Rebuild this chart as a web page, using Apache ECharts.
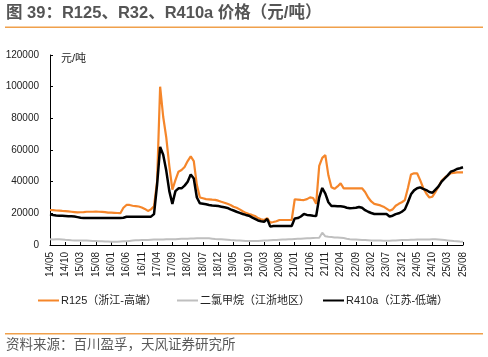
<!DOCTYPE html>
<html>
<head>
<meta charset="utf-8">
<script src="https://cdn.jsdelivr.net/npm/echarts@6/dist/echarts.min.js"></script>
<style>
html,body{margin:0;padding:0;background:#fff;}
#c{width:488px;height:357px;}
</style>
</head>
<body>
<div id="c"></div>
<script>
// Monthly categories 14/05 ... 25/08
const categories = [];
for (let y = 2014, m = 5; y < 2025 || (y === 2025 && m <= 8); ) {
  categories.push(String(y % 100).padStart(2, '0') + '/' + String(m).padStart(2, '0'));
  m++; if (m > 12) { m = 1; y++; }
}

const yTicks = [0, 20000, 40000, 60000, 80000, 100000, 120000];

// R125 (浙江-高端), 元/吨
const r125 = [
  22100,22000,21800,21700,21500,21400,21200,21000,20800,20600,
  20700,20800,21000,21000,21000,21100,21000,20900,20800,20500,
  20400,20300,20200,20100,23500,25300,25300,24800,24600,24300,
  23700,22800,21500,22500,24500,40000,100000,81000,68000,50000,
  35000,41000,46300,47400,49300,53000,56000,53000,38000,30000,
  29500,29000,28800,28600,28500,28000,27300,26700,26000,25300,
  24200,23500,22500,21300,20300,19500,19000,18300,17000,16300,
  15800,17000,14100,14500,15000,15800,15800,15800,15800,15800,
  28900,28700,28500,28400,29000,30100,29700,26000,50000,55000,
  56800,44000,36500,35500,37000,39000,35800,35800,35800,35800,
  35800,35800,35800,33500,30000,27500,26000,25500,25000,24200,
  23000,21700,22500,24800,26000,27000,28400,36000,44500,45300,
  45300,41000,36000,32500,30000,30500,33500,37000,40500,42500,
  44000,45300,45600,45900,45900,45900
];

// 二氯甲烷 (江浙地区), 元/吨
const dcm = [
  3600,3500,3600,3700,3500,3300,3200,3000,2900,2900,
  2800,2800,2800,2700,2600,2500,2400,2300,2200,2200,
  2100,2100,2100,2200,2300,2400,2600,2800,3000,3000,
  3100,3100,3200,3300,3400,3400,3500,3500,3600,3600,
  3600,3700,3800,3900,4000,4000,4100,4100,4200,4200,
  4200,4300,4200,4000,3800,3700,3600,3500,3300,3100,
  3000,2900,2800,2700,2600,2500,2500,2500,2600,2700,
  2800,2900,3000,3100,3200,3300,3400,3500,3600,3700,
  3800,3900,4000,4100,4200,4300,4400,4500,4600,7800,
  5500,5200,5000,4800,4700,4600,4400,4000,3700,3500,
  3400,3300,3200,3100,3000,2900,2900,2800,2800,2700,
  2700,2700,2800,2900,3000,3100,3100,3200,3300,3300,
  3400,3400,3500,3500,3500,3600,3600,3500,3300,3100,
  2900,2700,2500,2400,2200,2100
];

// R410a (江苏-低端), 元/吨
const r410a = [
  19400,19000,18700,18500,18400,18300,18200,18100,18000,17600,
  17200,17100,17100,17100,17100,17100,17100,17100,17100,17100,
  17100,17100,17100,17100,17200,17800,17900,17900,17900,17900,
  17900,17900,17900,17900,19500,38000,62000,57000,47000,34000,
  26000,34000,35800,35800,37500,40000,44600,42000,30000,26300,
  26000,25700,25300,25000,24800,24600,24200,23800,23400,22500,
  21800,21000,20300,19600,19000,18500,17500,16500,15500,15000,
  14700,16500,11600,12000,12000,12000,12000,12000,12000,12000,
  16800,17000,18000,19600,19000,18800,18500,18300,30000,36000,
  32500,27000,24600,24600,24500,24400,24200,23500,23200,23300,
  23500,24000,23500,22000,21000,20200,19600,19600,19600,19600,
  19600,18000,18500,19500,20000,21000,22500,27000,32000,34500,
  35800,36400,35500,34700,33500,33000,35000,37000,40000,42000,
  44000,46300,47000,48000,48500,49100
];

const seriesNames = ['R125（浙江-高端）', '二氯甲烷（江浙地区）', 'R410a（江苏-低端）'];
const colors = ['#F5862A', '#BFBFBF', '#000000'];

const FONT = '"Liberation Sans", Arial, "Noto Sans CJK SC", sans-serif';
const CJK = '"Liberation Sans", "Noto Sans CJK SC", sans-serif';

const chart = echarts.init(document.getElementById('c'), null, {renderer: 'canvas'});

function legendFor(name, left) {
  return {
    data: [name],
    left: left,
    top: 290,
    icon: 'rect',
    itemWidth: 21,
    itemHeight: 2,
    itemGap: 0,
    selectedMode: false,
    textStyle: {fontFamily: CJK, fontSize: 11, color: '#222', padding: [0, 0, 0, -3]}
  };
}

chart.setOption({
  animation: false,
  backgroundColor: '#fff',
  graphic: [
    {type: 'text', left: 6, top: 5,
     style: {text: '图 39：R125、R32、R410a 价格（元/吨）', font: 'bold 16.5px ' + CJK, fill: '#555555'}},
    {type: 'rect', shape: {x: 5, y: 26.5, width: 478, height: 1.5}, style: {fill: '#F0A04B'}},
    {type: 'text', left: 61, top: 53,
     style: {text: '元/吨', font: '11px ' + CJK, fill: '#222'}},
    {type: 'rect', shape: {x: 5, y: 333, width: 478, height: 1.5}, style: {fill: '#F0A04B'}},
    {type: 'text', left: 6, top: 339,
     style: {text: '资料来源：百川盈孚，天风证券研究所', font: '13.5px ' + CJK, fill: '#595959'}}
  ],
  legend: [
    legendFor(seriesNames[0], 33),
    legendFor(seriesNames[1], 172),
    legendFor(seriesNames[2], 318)
  ],
  grid: {left: 50, right: 25, top: 55, bottom: 112, containLabel: false},
  xAxis: {
    type: 'category',
    data: categories,
    boundaryGap: false,
    axisLine: {lineStyle: {color: '#000', width: 1}},
    axisTick: {inside: true, length: 3, interval: 4, lineStyle: {color: '#000'}},
    axisLabel: {interval: 4, rotate: 90, margin: 7, fontSize: 10, fontFamily: FONT, color: '#222'},
    splitLine: {show: false}
  },
  yAxis: {
    type: 'value',
    min: yTicks[0],
    max: yTicks[yTicks.length - 1],
    interval: yTicks[1] - yTicks[0],
    axisLine: {show: true, lineStyle: {color: '#000', width: 1}},
    axisTick: {show: true, inside: true, length: 3, lineStyle: {color: '#000'}},
    axisLabel: {margin: 11, fontSize: 10, fontFamily: FONT, color: '#222',
                formatter: function (v) { return String(v); }},
    splitLine: {show: false}
  },
  series: [
    {name: seriesNames[0], type: 'line', data: r125, symbol: 'none', z: 2,
     lineStyle: {color: colors[0], width: 2.2}, itemStyle: {color: colors[0]}},
    {name: seriesNames[1], type: 'line', data: dcm, symbol: 'none', z: 1,
     lineStyle: {color: colors[1], width: 2}, itemStyle: {color: colors[1]}},
    {name: seriesNames[2], type: 'line', data: r410a, symbol: 'none', z: 3,
     lineStyle: {color: colors[2], width: 2.5}, itemStyle: {color: colors[2]}}
  ]
});
</script>
</body>
</html>
